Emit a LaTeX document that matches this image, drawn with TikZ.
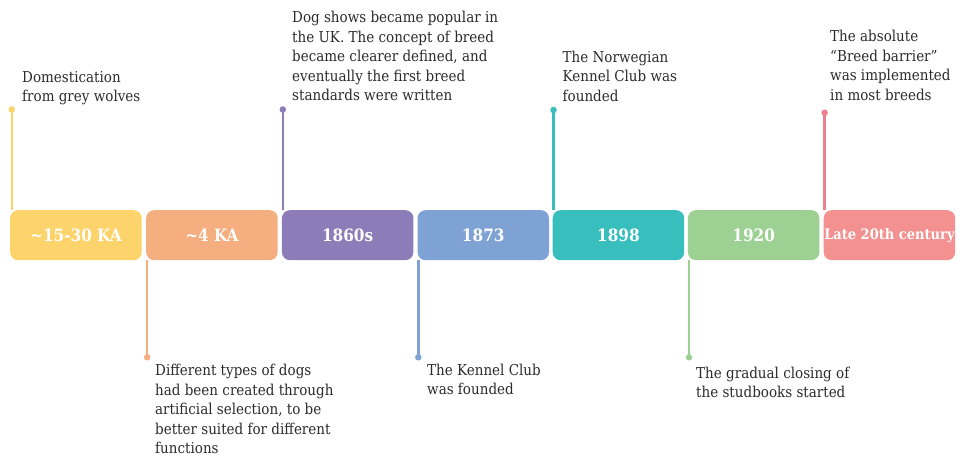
\documentclass[tikz,border=0pt]{standalone}
\usepackage{fontspec}
\setmainfont{DejaVu Serif Condensed}
\definecolor{txt}{HTML}{2B2B2B}
\definecolor{cA}{HTML}{FDD36B}
\definecolor{cB}{HTML}{F5AE80}
\definecolor{cC}{HTML}{8C7DB8}
\definecolor{cD}{HTML}{7FA2D4}
\definecolor{cE}{HTML}{38BEBD}
\definecolor{cF}{HTML}{9DD193}
\definecolor{cG}{HTML}{F39090}
\definecolor{cGl}{HTML}{EE7F8E}
\tikzset{
 evbox/.style={rounded corners=8pt, minimum width=131.5pt, minimum height=50pt, inner sep=0pt, anchor=north west, text=white, font=\fontsize{17}{20}\selectfont\bfseries},
 evdot/.style={circle, inner sep=0pt, minimum size=6.5pt},
 evline/.style={line width=2.4pt},
 evtext/.style={anchor=base west, align=left, inner sep=0pt, text=txt, font=\fontsize{15}{19.5}\selectfont},
}
\begin{document}
\begin{tikzpicture}[x=1pt,y=-1pt]
\useasboundingbox (0,0) rectangle (960,457);
% boxes
\node[evbox, fill=cA] (b1) at (10,210) {\textasciitilde15-30 KA};
\node[evbox, fill=cB] (b2) at (146,210) {\textasciitilde4 KA};
\node[evbox, fill=cC] (b3) at (281.7,210) {1860s};
\node[evbox, fill=cD] (b4) at (417.3,210) {1873};
\node[evbox, fill=cE] (b5) at (552.5,210) {1898};
\node[evbox, fill=cF] (b6) at (687.7,210) {1920};
\node[evbox, fill=cG, font=\fontsize{14.5}{17}\selectfont\bfseries] (b7) at (823.5,210) {Late 20th century};
% dots
\node[evdot, fill=cA] (d1) at (11.8,109.5) {};
\node[evdot, fill=cB] (d2) at (147.2,357.3) {};
\node[evdot, fill=cC] (d3) at (282.8,109.5) {};
\node[evdot, fill=cD] (d4) at (418.3,357.3) {};
\node[evdot, fill=cE] (d5) at (553.5,110) {};
\node[evdot, fill=cF] (d6) at (689,357.3) {};
\node[evdot, fill=cGl] (d7) at (824.6,112.7) {};
% connectors
\draw[evline, cA] (d1.center) -- (d1.center |- b1.north);
\draw[evline, cB] (d2.center) -- (d2.center |- b2.south);
\draw[evline, cC] (d3.center) -- (d3.center |- b3.north);
\draw[evline, cD] (d4.center) -- (d4.center |- b4.south);
\draw[evline, cE] (d5.center) -- (d5.center |- b5.north);
\draw[evline, cF] (d6.center) -- (d6.center |- b6.south);
\draw[evline, cGl] (d7.center) -- (d7.center |- b7.north);
% texts (anchor = baseline of last line)
\node[evtext] (t1) at (22,102) {Domestication\\from grey wolves};
\node[evtext] (t2) at (155,453.5) {Different types of dogs\\had been created through\\artificial selection, to be\\better suited for different\\functions};
\node[evtext] (t3) at (292,101) {Dog shows became popular in\\the UK. The concept of breed\\became clearer defined, and\\eventually the first breed\\standards were written};
\node[evtext] (t4) at (427,394.5) {The Kennel Club\\was founded};
\node[evtext] (t5) at (562.5,101.5) {The Norwegian\\Kennel Club was\\founded};
\node[evtext] (t6) at (696,397.5) {The gradual closing of\\the studbooks started};
\node[evtext] (t7) at (830,100.5) {The absolute\\“Breed barrier”\\was implemented\\in most breeds};
\end{tikzpicture}
\end{document}
